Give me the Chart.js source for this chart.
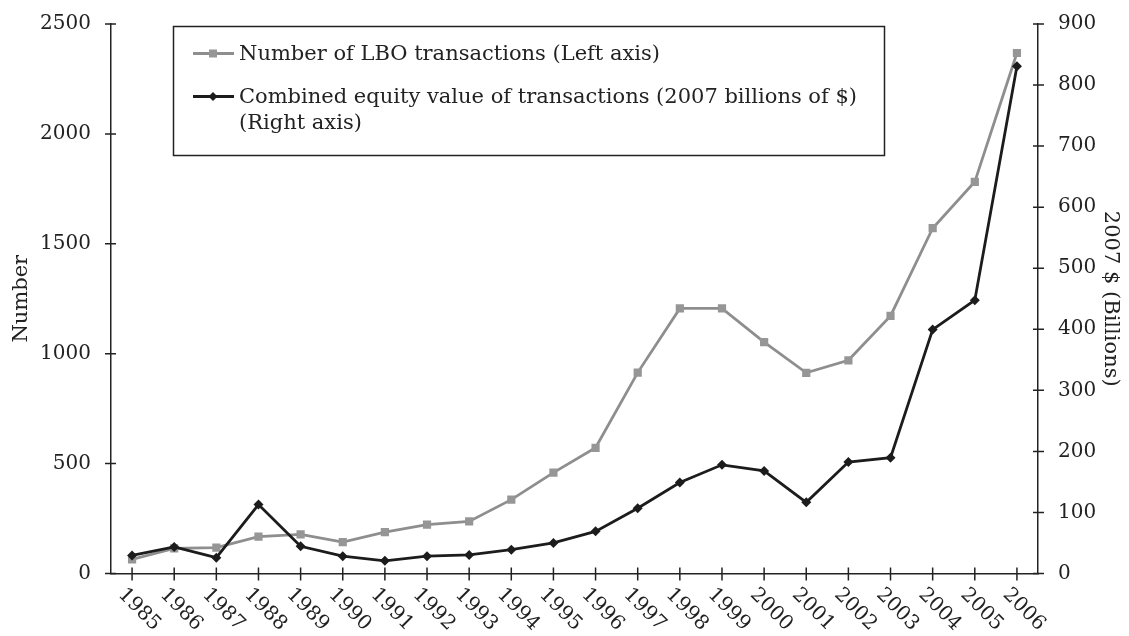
<!DOCTYPE html>
<html><head><meta charset="utf-8">
<script src="https://cdn.jsdelivr.net/npm/chart.js@4.4.1/dist/chart.umd.min.js"></script>
<style>html,body{margin:0;padding:0;background:#fff;}#wrap{position:relative;width:1129px;height:636px;}</style>
</head><body><div id="wrap"><canvas id="c" width="1129" height="636"></canvas></div>
<script>
const years = ['1985','1986','1987','1988','1989','1990','1991','1992','1993','1994','1995','1996','1997','1998','1999','2000','2001','2002','2003','2004','2005','2006'];
const lboCount = [64,114,118,168,178,143,188,222,237,336,459,572,914,1206,1206,1053,913,970,1172,1571,1782,2368];
const equityValue = [29.5,43.5,26,113,44.6,28.4,20.8,28.4,30.5,39,50,69,107,149,178,168,116.5,182.6,189.6,399.6,447.7,830.7];
const leftAxis = {min:0, max:2500, step:500, title:'Number'};
const rightAxis = {min:0, max:900, step:100, title:'2007 $ (Billions)'};
const legendLines = [
  ['Number of LBO transactions (Left axis)'],
  ['Combined equity value of transactions (2007 billions of $)', '(Right axis)']
];

const INK = '#222';
const FONT = '"DejaVu Serif", serif';

const crossTicks = {
  id:'crossTicks',
  afterDraw(chart){
    const ctx = chart.ctx, a = chart.chartArea;
    const yL = chart.scales.yL, yR = chart.scales.yR, x = chart.scales.x;
    ctx.save();
    ctx.strokeStyle = INK; ctx.lineWidth = 1.5;
    ctx.beginPath();
    yL.ticks.forEach((t,i)=>{const p=yL.getPixelForTick(i); ctx.moveTo(a.left-6,p); ctx.lineTo(a.left+5,p);});
    yR.ticks.forEach((t,i)=>{const p=yR.getPixelForTick(i); ctx.moveTo(a.right-5,p); ctx.lineTo(a.right+6,p);});
    x.ticks.forEach((t,i)=>{const p=x.getPixelForTick(i); ctx.moveTo(p,a.bottom-6); ctx.lineTo(p,a.bottom+7);});
    ctx.stroke();
    ctx.fillStyle = INK; ctx.font = '20px ' + FONT;
    ctx.textAlign = 'left'; ctx.textBaseline = 'middle';
    x.ticks.forEach((t,i)=>{
      const p = x.getPixelForTick(i);
      ctx.save(); ctx.translate(p-11, a.bottom+18); ctx.rotate(Math.PI/4);
      ctx.fillText(x.getLabelForValue(t.value), 0, 0);
      ctx.restore();
    });
    ctx.restore();
  }
};

const boxLegend = {
  id:'boxLegend',
  afterDraw(chart){
    const ctx = chart.ctx;
    ctx.save();
    ctx.strokeStyle = INK; ctx.lineWidth = 1.5;
    ctx.strokeRect(173.5, 26.5, 711, 129);
    const rows = [{y:53.5, base:[60]}, {y:96.5, base:[103,129]}];
    chart.data.datasets.forEach((ds, i)=>{
      const r = rows[i];
      ctx.strokeStyle = ds.borderColor; ctx.lineWidth = ds.borderWidth;
      ctx.beginPath(); ctx.moveTo(193, r.y); ctx.lineTo(234, r.y); ctx.stroke();
      ctx.fillStyle = ds.pointBackgroundColor;
      ctx.beginPath();
      if (ds.pointStyle === 'rect') { ctx.rect(213-4, r.y-4, 8, 8); }
      else { ctx.moveTo(213, r.y-4.5); ctx.lineTo(217.5, r.y); ctx.lineTo(213, r.y+4.5); ctx.lineTo(208.5, r.y); ctx.closePath(); }
      ctx.fill();
      ctx.fillStyle = INK; ctx.font = '21px ' + FONT;
      ctx.textAlign = 'left'; ctx.textBaseline = 'alphabetic';
      legendLines[i].forEach((line, j)=> ctx.fillText(line, 239, r.base[j]));
    });
    ctx.restore();
  }
};

const plainNumber = v => String(v);

new Chart(document.getElementById('c'), {
  type:'line',
  data:{
    labels: years,
    datasets:[
      {label: legendLines[0].join(' '), data: lboCount, yAxisID:'yL', order:2,
       borderColor:'#8e8e8e', backgroundColor:'#969696', pointBackgroundColor:'#969696', pointBorderColor:'#969696',
       borderWidth:2.8, pointStyle:'rect', pointRadius:5.8, pointBorderWidth:0, tension:0},
      {label: legendLines[1].join(' '), data: equityValue, yAxisID:'yR', order:1,
       borderColor:'#1c1c1c', backgroundColor:'#1c1c1c', pointBackgroundColor:'#1c1c1c', pointBorderColor:'#1c1c1c',
       borderWidth:2.8, pointStyle:'rectRot', pointRadius:5, pointBorderWidth:0, tension:0}
    ]
  },
  options:{
    responsive:false, animation:false, devicePixelRatio:1,
    layout:{padding:{top:19, left:0, right:0, bottom:0}},
    plugins:{legend:{display:false}, tooltip:{enabled:false}},
    scales:{
      x:{type:'category', offset:true,
         grid:{display:false}, ticks:{display:false},
         border:{display:true, color:INK, width:1.5},
         afterFit(s){ s.height = 62.5; }},
      yL:{position:'left', min:leftAxis.min, max:leftAxis.max,
          grid:{display:false},
          border:{display:true, color:INK, width:1.5},
          ticks:{stepSize:leftAxis.step, color:INK, padding:12, font:{family:FONT, size:20}, callback:plainNumber},
          title:{display:true, text:leftAxis.title, color:INK, font:{family:FONT, size:21}, padding:{top:9, bottom:0}},
          afterFit(s){ s.width = 111; }},
      yR:{position:'right', min:rightAxis.min, max:rightAxis.max,
          grid:{display:false},
          border:{display:true, color:INK, width:1.5},
          ticks:{stepSize:rightAxis.step, color:INK, padding:12, font:{family:FONT, size:20}, callback:plainNumber},
          title:{display:true, text:rightAxis.title, color:INK, font:{family:FONT, size:21}, padding:{top:6, bottom:0}},
          afterFit(s){ s.width = 91; }}
    }
  },
  plugins:[crossTicks, boxLegend]
});
</script></body></html>
